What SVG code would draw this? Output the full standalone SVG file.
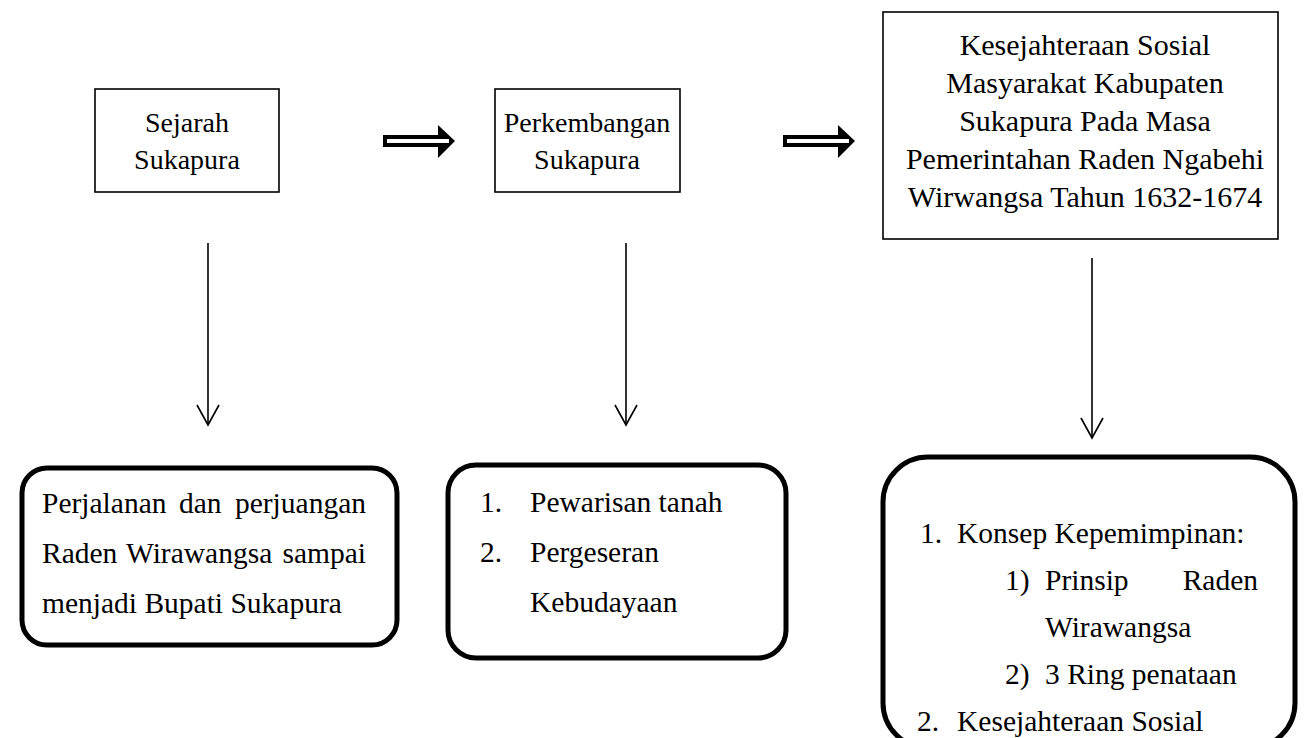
<svg xmlns="http://www.w3.org/2000/svg" width="1309" height="738" viewBox="0 0 1309 738">
<style>
text{font-family:"Liberation Serif","Times New Roman",serif;font-size:29.5px;fill:#000}
.t{font-size:28px}
.t3{font-size:30px}
.c{text-anchor:middle}
.e{text-anchor:end}
.box{fill:#fff;stroke:#000;stroke-width:1.6}
.rbox{fill:#fff;stroke:#000;stroke-width:5}
.ln{stroke:#000;stroke-width:1.6;fill:none}
</style>
<rect width="1309" height="738" fill="#fff"/>
<g id="connectors">
<g id="dbl1">
<rect x="383" y="135" width="60" height="12" fill="#000"/>
<polygon points="438,125 455,141 438,158" fill="#000"/>
<rect x="387" y="139" width="62" height="4" fill="#fff"/>
</g>
<g id="dbl2">
<rect x="783" y="135" width="60" height="12" fill="#000"/>
<polygon points="838,125 855,141 838,158" fill="#000"/>
<rect x="787" y="139" width="62" height="4" fill="#fff"/>
</g>
<g id="v1"><line class="ln" x1="208" y1="243" x2="208" y2="425"/><polyline class="ln" points="197,405 208,425 219,405"/></g>
<g id="v2"><line class="ln" x1="626" y1="243" x2="626" y2="425"/><polyline class="ln" points="615,405 626,425 637,405"/></g>
<g id="v3"><line class="ln" x1="1092" y1="258" x2="1092" y2="438"/><polyline class="ln" points="1081,418 1092,438 1103,418"/></g>
</g>
<g id="n1">
<rect class="box" x="95" y="89" width="184" height="103"/>
<text class="c t" x="187" y="132">Sejarah</text>
<text class="c t" x="187" y="169">Sukapura</text>
</g>
<g id="n2">
<rect class="box" x="495" y="89" width="185" height="103"/>
<text class="c t" x="587" y="132">Perkembangan</text>
<text class="c t" x="587" y="169">Sukapura</text>
</g>
<g id="n3">
<rect class="box" x="883" y="12" width="395" height="227"/>
<text class="c t3" x="1085" y="55">Kesejahteraan Sosial</text>
<text class="c t3" x="1085" y="93">Masyarakat Kabupaten</text>
<text class="c t3" x="1085" y="131">Sukapura Pada Masa</text>
<text class="c t3" x="1085" y="169">Pemerintahan Raden Ngabehi</text>
<text class="c t3" x="1085" y="207">Wirwangsa Tahun 1632-1674</text>
</g>
<g id="n4">
<rect class="rbox" x="22" y="468" width="375" height="177" rx="25"/>
<text x="42" y="513">Perjalanan</text>
<text x="179" y="513">dan</text>
<text class="e" x="366" y="513">perjuangan</text>
<text x="42" y="563">Raden</text>
<text x="126" y="563">Wirawangsa</text>
<text class="e" x="366" y="563">sampai</text>
<text x="42" y="613">menjadi Bupati Sukapura</text>
</g>
<g id="n5">
<rect class="rbox" x="448" y="465" width="338" height="193" rx="28"/>
<text x="480" y="512">1.</text>
<text x="530" y="512">Pewarisan tanah</text>
<text x="480" y="562">2.</text>
<text x="530" y="562">Pergeseran</text>
<text x="530" y="612">Kebudayaan</text>
</g>
<g id="n6">
<rect class="rbox" x="883" y="457" width="412" height="291" rx="45"/>
<text x="920" y="543">1.</text>
<text x="957" y="543">Konsep Kepemimpinan:</text>
<text x="1005" y="590">1)</text>
<text x="1045" y="590">Prinsip</text>
<text class="e" x="1258" y="590">Raden</text>
<text x="1045" y="637">Wirawangsa</text>
<text x="1005" y="684">2)</text>
<text x="1045" y="684">3 Ring penataan</text>
<text x="917" y="731">2.</text>
<text x="957" y="731">Kesejahteraan Sosial</text>
</g>
</svg>
